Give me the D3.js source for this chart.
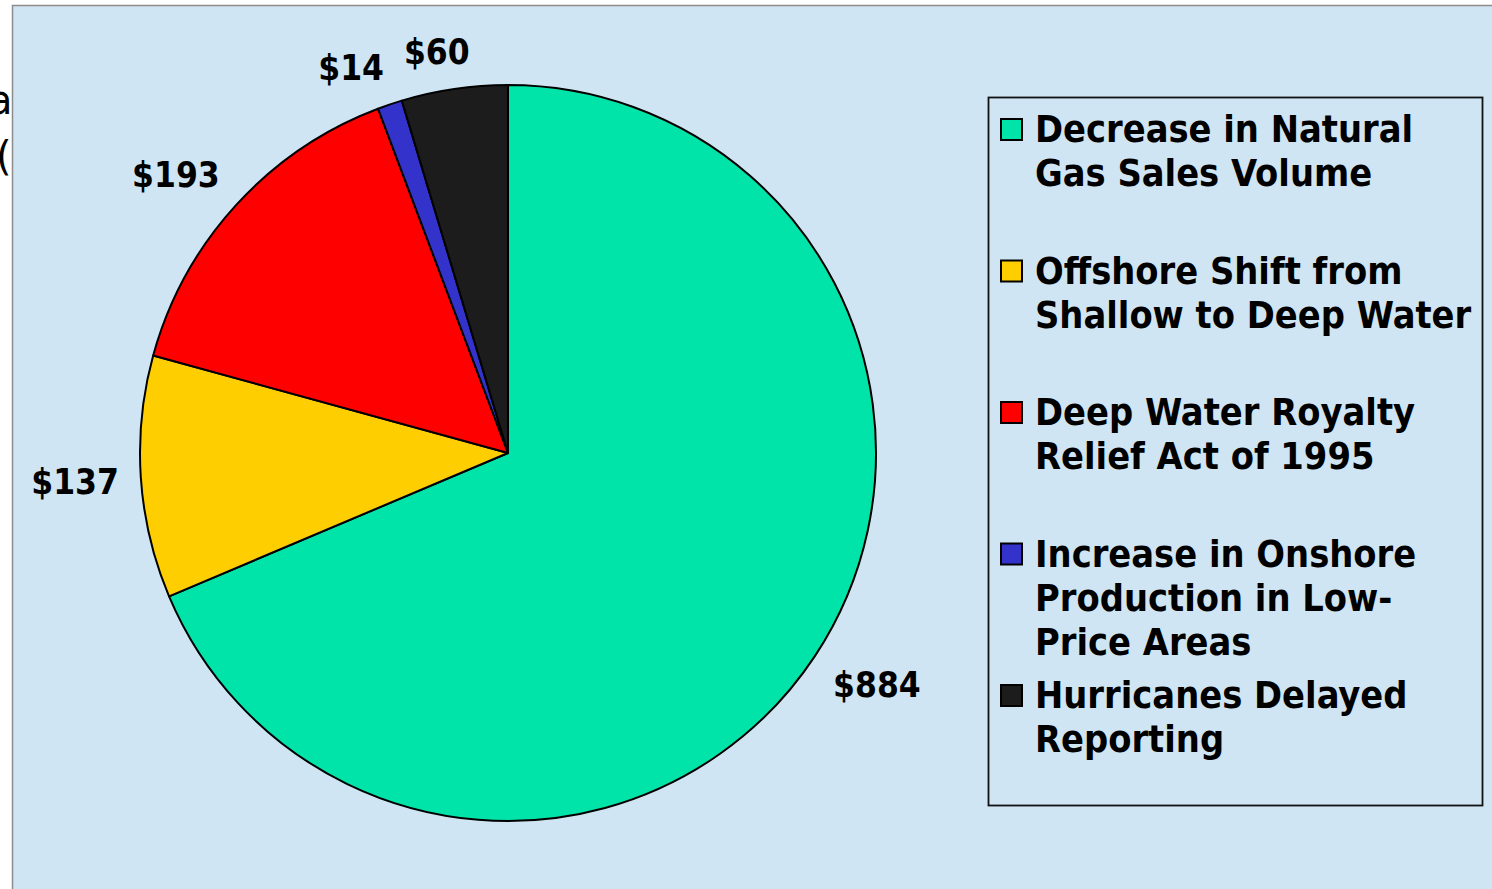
<!DOCTYPE html>
<html>
<head>
<meta charset="utf-8">
<script src="https://cdn.jsdelivr.net/npm/d3@7"></script>
<style>
  html, body { margin: 0; padding: 0; background: #ffffff; overflow: hidden; }
  svg { display: block; }
  .bold { font-family: "DejaVu Sans Condensed", "DejaVu Sans", Verdana, sans-serif; font-stretch: condensed; font-weight: bold; }
</style>
</head>
<body>
<svg id="chart" width="1492" height="889"></svg>
<script>
// Revenue change components ($ millions)
const categories = [
  "Decrease in Natural Gas Sales Volume",
  "Offshore Shift from Shallow to Deep Water",
  "Deep Water Royalty Relief Act of 1995",
  "Increase in Onshore Production in Low-Price Areas",
  "Hurricanes Delayed Reporting"
];
const values = [884, 137, 193, 14, 60];
const valueLabels = ["$884", "$137", "$193", "$14", "$60"];
const legendLines = [
  ["Decrease in Natural", "Gas Sales Volume"],
  ["Offshore Shift from", "Shallow to Deep Water"],
  ["Deep Water Royalty", "Relief Act of 1995"],
  ["Increase in Onshore", "Production in Low-", "Price Areas"],
  ["Hurricanes Delayed", "Reporting"]
];
const colors = ["#00E4AA", "#FFCE00", "#FF0000", "#3333CC", "#1C1C1C"];

const W = 1492, H = 889;
const svg = d3.select("#chart");

// Fragments of slide text peeking out from behind the chart panel
svg.append("text").attr("x", -12).attr("y", 114)
  .attr("font-family", "DejaVu Sans, sans-serif").attr("font-size", 40).attr("fill", "#000").text("a");
svg.append("text").attr("x", -4).attr("y", 170)
  .attr("font-family", "DejaVu Sans, sans-serif").attr("font-size", 40).attr("fill", "#000").text("(");

// Chart panel
svg.append("rect")
  .attr("x", 12.5).attr("y", 5.5).attr("width", W).attr("height", H)
  .attr("fill", "#D0E5F3").attr("stroke", "#8c8c8c").attr("stroke-width", 1.5);

// Pie
const cx = 508, cy = 453, r = 368;
const data = categories.map((c, i) => ({ name: c, value: values[i], label: valueLabels[i], color: colors[i] }));
const pie = d3.pie().value(d => d.value).sort(null).startAngle(0).endAngle(2 * Math.PI);
const arcs = pie(data);
const arc = d3.arc().innerRadius(0).outerRadius(r);

const g = svg.append("g").attr("transform", `translate(${cx},${cy})`);
g.selectAll("path.slice").data(arcs).enter().append("path")
  .attr("class", "slice")
  .attr("d", arc)
  .attr("fill", d => d.data.color)
  .attr("stroke", "#000").attr("stroke-width", 2).attr("stroke-linejoin", "round");

// Value labels: the text box's nearest corner sits on the slice's mid-angle ray, just outside the rim
const labels = g.selectAll("text.val").data(arcs).enter().append("text")
  .attr("class", "val bold")
  .attr("font-size", 35)
  .attr("fill", "#000")
  .attr("text-anchor", "middle")
  .text(d => d.data.label);

const boxH = 32;
labels.each(function (d) {
  const w = this.getBBox().width;
  const a = (d.startAngle + d.endAngle) / 2;
  const s = Math.sin(a), c = -Math.cos(a);
  const pr = r + 22;
  const fx = Math.sign(s) * Math.min(1, Math.abs(s) * 3);
  const fy = Math.sign(c) * Math.min(1, Math.abs(c) * 3);
  d.lx = pr * s + fx * w / 2;
  d.ly = pr * c + fy * boxH / 2;
});
labels.attr("x", d => d.lx).attr("y", d => d.ly + 12.5);

// Legend
const lg = svg.append("g");
lg.append("rect")
  .attr("x", 988.5).attr("y", 97.5).attr("width", 494).attr("height", 708)
  .attr("fill", "none").attr("stroke", "#111").attr("stroke-width", 1.8);

const itemY = d3.scaleLinear().domain([0, 4]).range([142, 708]);
const items = lg.selectAll("g.item").data(data).enter().append("g")
  .attr("class", "item")
  .attr("transform", (d, i) => `translate(0,${itemY(i)})`);
items.append("rect")
  .attr("x", 1001).attr("y", -23).attr("width", 21).attr("height", 21)
  .attr("fill", d => d.color).attr("stroke", "#000").attr("stroke-width", 2);
items.each(function (d, i) {
  const t = d3.select(this).append("text").attr("class", "bold")
    .attr("font-size", 37.6).attr("fill", "#000");
  legendLines[i].forEach((ln, j) => {
    t.append("tspan").attr("x", 1035).attr("y", j * 44).text(ln);
  });
});
</script>
</body>
</html>
